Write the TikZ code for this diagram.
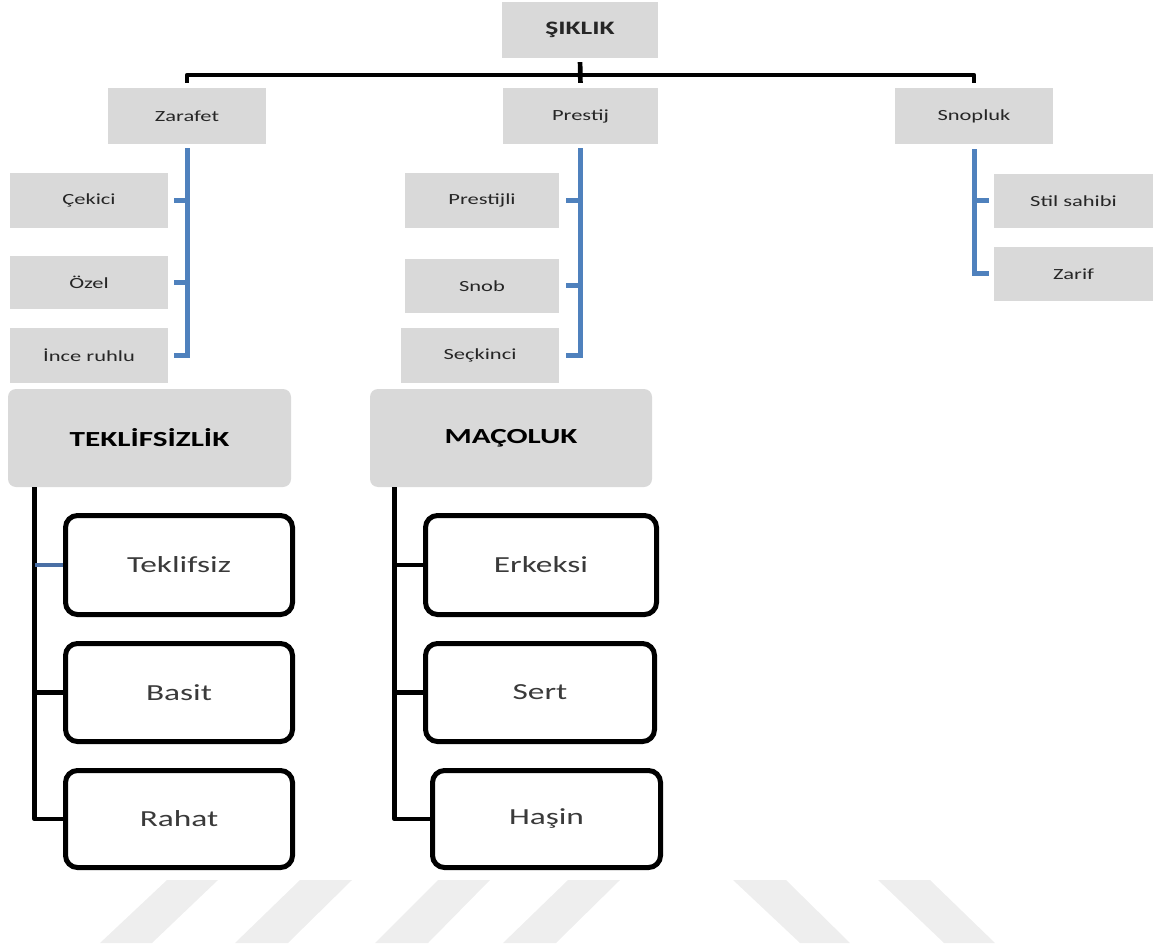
\documentclass[tikz,border=0pt]{standalone}
\usepackage{fontspec}
\setmainfont{Carlito}
\usepackage{graphicx}
\definecolor{boxgray}{HTML}{D9D9D9}
\definecolor{lineblue}{HTML}{4F81BD}
\definecolor{tickblue}{HTML}{4A6FA5}
\definecolor{txt}{HTML}{262626}
\definecolor{txtb}{HTML}{3A3A3A}
\definecolor{wm}{HTML}{EEEEEE}
\newcommand{\wide}[1]{\scalebox{1.45}[1]{#1}}
\begin{document}
\begin{tikzpicture}[x=1pt,y=-1pt,
  gbox/.style={fill=boxgray, draw=none, inner sep=0pt, text=txt, font=\fontsize{15.5}{18}\selectfont},
  hbox/.style={fill=boxgray, draw=none, rounded corners=8pt, inner sep=0pt, text=black, font=\bfseries\fontsize{21.5}{24}\selectfont},
  wbox/.style={draw=black, line width=5pt, rounded corners=12pt, fill=white, inner sep=0pt, text=txtb, font=\fontsize{23}{26}\selectfont},
  blk/.style={draw=black, line width=4.7pt, line join=round},
  blu/.style={draw=lineblue, line width=5pt},
  wmark/.style={fill=wm, draw=none}]
\useasboundingbox (0,0) rectangle (1155,949);
% watermark stripes
\fill[wmark] (167,880) -- (218,880) -- (152,943) -- (100,943) -- cycle;
\fill[wmark] (300,880) -- (352,880) -- (288,943) -- (235,943) -- cycle;
\fill[wmark] (438,880) -- (490,880) -- (428,943) -- (375,943) -- cycle;
\fill[wmark] (568,880) -- (620,880) -- (556,943) -- (503,943) -- cycle;
\fill[wmark] (733,880) -- (786,880) -- (850,943) -- (800,943) -- cycle;
\fill[wmark] (878,880) -- (930,880) -- (995,943) -- (944,943) -- cycle;

% top level
\node[gbox, minimum width=156pt, minimum height=56pt] (sik) at (580,30) {\wide{\bfseries\fontsize{19}{22}\selectfont ŞIKLIK}};
\node[gbox, minimum width=158pt, minimum height=56pt] (zar) at (187,116) {\wide{Zarafet}};
\node[gbox, minimum width=155pt, minimum height=56pt] (pre) at (580.5,116) {\wide{Prestij}};
\node[gbox, minimum width=158pt, minimum height=56pt] (sno) at (974,116) {\wide{Snopluk}};
% Zarafet children
\node[gbox, minimum width=158pt, minimum height=55pt] (cek) at (89,200.5) {\wide{Çekici}};
\node[gbox, minimum width=158pt, minimum height=53pt] (oze) at (89,282.5) {\wide{Özel}};
\node[gbox, minimum width=158pt, minimum height=55pt] (inc) at (89,355.5) {\wide{İnce ruhlu}};
% Prestij children
\node[gbox, minimum width=154pt, minimum height=55pt] (psl) at (482,200.5) {\wide{Prestijli}};
\node[gbox, minimum width=154pt, minimum height=54pt] (snb) at (482,286) {\wide{Snob}};
\node[gbox, minimum width=158pt, minimum height=55pt] (sec) at (480,355.5) {\wide{Seçkinci}};
% Snopluk children
\node[gbox, minimum width=159pt, minimum height=54pt] (sti) at (1073.5,201) {\wide{Stil sahibi}};
\node[gbox, minimum width=159pt, minimum height=54pt] (zrf) at (1073.5,274) {\wide{Zarif}};

% second hierarchy
\node[hbox, minimum width=283pt, minimum height=98pt] (tek) at (149.5,438) {\wide{TEKLİFSİZLİK}};
\node[hbox, minimum width=282pt, minimum height=98pt] (mac) at (511,438) {\wide{MAÇOLUK}};
\node[wbox, minimum width=227pt, minimum height=99pt] (tk) at (179,565) {\wide{Teklifsiz}};
\node[wbox, minimum width=227pt, minimum height=98pt] (bs) at (179,692.5) {\wide{Basit}};
\node[wbox, minimum width=227pt, minimum height=97pt] (rh) at (179,819) {\wide{Rahat}};
\node[wbox, minimum width=231pt, minimum height=99pt] (er) at (541,565) {\wide{Erkeksi}};
\node[wbox, minimum width=229pt, minimum height=98pt] (se) at (540,692.5) {\wide{Sert}};
\node[wbox, minimum width=228pt, minimum height=97pt] (ha) at (546.5,819) {\wide{Haşin}};

% top connectors
\coordinate (bar) at (580,75);
\draw[blk, shorten <=4pt, shorten >=5pt] (sik.south) -- (pre.north);
\draw[blk, shorten <=5pt, shorten >=5pt] (zar.north) |- (bar) -| (sno.north);

% Zarafet branch
\draw[blu, shorten <=4pt, shorten >=6pt] (zar.south) |- (inc.east);
\draw[blu, shorten >=6pt] (zar.south |- cek.east) -- (cek.east);
\draw[blu, shorten >=6pt] (zar.south |- oze.east) -- (oze.east);
% Prestij branch
\draw[blu, shorten <=4pt, shorten >=7pt] (pre.south) |- (sec.east);
\draw[blu, shorten >=7pt] (pre.south |- psl.east) -- (psl.east);
\draw[blu, shorten >=7pt] (pre.south |- snb.east) -- (snb.east);
% Snopluk branch
\draw[blu, shorten <=5pt, shorten >=5pt] (sno.south) |- (zrf.west);
\draw[blu, shorten >=5pt] (sno.south |- sti.west) -- (sti.west);

% TEKLIFSIZLIK branch
\coordinate (tv) at ([xshift=27pt]tek.south west);
\draw[blk] (tv) |- (rh.west);
\draw[draw=tickblue, line width=3.5pt] (tv |- tk.west) -- (tk.west);
\draw[blk] (tv |- bs.west) -- (bs.west);
% MACOLUK branch
\coordinate (mv) at ([xshift=25pt]mac.south west);
\draw[blk] (mv) |- (ha.west);
\draw[blk] (mv |- er.west) -- (er.west);
\draw[blk] (mv |- se.west) -- (se.west);
\end{tikzpicture}
\end{document}
